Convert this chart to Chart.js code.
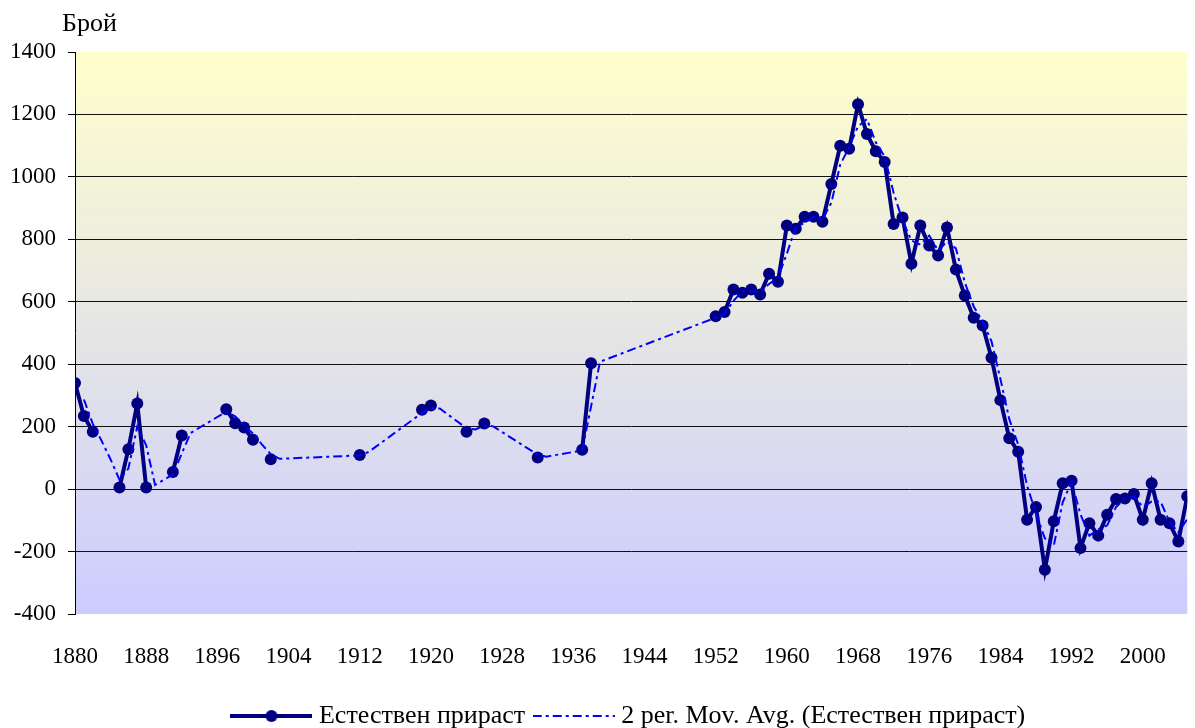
<!DOCTYPE html>
<html>
<head>
<meta charset="utf-8">
<script src="https://cdn.jsdelivr.net/npm/chart.js@4/dist/chart.umd.min.js"></script>
<style>
  html, body { margin: 0; padding: 0; background: #fff; }
</style>
</head>
<body>
<canvas id="growthChart" width="1195" height="728"></canvas>
<script>
// Natural growth (number of people), years with data only
const years = [1880, 1881, 1882, 1885, 1886, 1887, 1888, 1891, 1892, 1897, 1898, 1899, 1900, 1902,
  1912, 1919, 1920, 1924, 1926, 1932, 1937, 1938,
  1952, 1953, 1954, 1955, 1956, 1957, 1958, 1959, 1960, 1961, 1962, 1963, 1964, 1965, 1966, 1967,
  1968, 1969, 1970, 1971, 1972, 1973, 1974, 1975, 1976, 1977, 1978, 1979, 1980, 1981, 1982, 1983,
  1984, 1985, 1986, 1987, 1988, 1989, 1990, 1991, 1992, 1993, 1994, 1995, 1996, 1997, 1998, 1999,
  2000, 2001, 2002, 2003, 2004, 2005];
const growth = [340, 234, 184, 5, 128, 274, 5, 55, 172, 256, 211, 197, 158, 96,
  109, 254, 268, 184, 210, 101, 126, 403,
  554, 567, 639, 629, 639, 623, 690, 664, 844, 834, 872, 872, 856, 977, 1100, 1090,
  1233, 1137, 1082, 1048, 849, 870, 722, 844, 780, 748, 838, 703, 620, 549, 524, 421,
  285, 163, 120, -98, -57, -258, -103, 19, 27, -189, -109, -149, -82, -32, -30, -16,
  -98, 19, -98, -109, -168, -23];

// 2 period moving average as drawn (dash-dot line)
const maYears = [1881, 1882, 1883, 1884, 1885, 1886, 1887, 1888, 1889, 1890, 1891, 1892, 1893,
  1897, 1898, 1899, 1900, 1901, 1902, 1903, 1912, 1913, 1919, 1920, 1921, 1924, 1925, 1926, 1927,
  1932, 1933, 1937, 1938, 1939,
  1952, 1953, 1954, 1955, 1956, 1957, 1958, 1959, 1960, 1961, 1962, 1963, 1964, 1965, 1966, 1967,
  1968, 1969, 1970, 1971, 1972, 1973, 1974, 1975, 1976, 1977, 1978, 1979, 1980, 1981, 1982, 1983,
  1984, 1985, 1986, 1987, 1988, 1989, 1990, 1991, 1992, 1993, 1994, 1995, 1996, 1997, 1998, 1999,
  2000, 2001, 2002, 2003, 2004, 2005];
const maValues = [287, 209, 154, 95, 30, 66, 201, 140, 13, 30, 47, 114, 180,
  248, 233, 204, 178, 143, 112, 97, 108, 119, 244, 261, 258, 195, 191, 204, 201,
  110, 104, 124, 265, 408,
  549, 561, 603, 634, 634, 631, 657, 677, 754, 839, 853, 872, 864, 917, 1039, 1095,
  1162, 1185, 1110, 1065, 949, 860, 796, 783, 812, 764, 793, 771, 662, 585, 537, 473,
  353, 224, 142, 11, -78, -158, -181, -42, 23, -81, -149, -129, -116, -57, -31, -23,
  -57, -40, -40, -104, -139, -96];

const xTicks = [1880, 1888, 1896, 1904, 1912, 1920, 1928, 1936, 1944, 1952, 1960, 1968, 1976, 1984, 1992, 2000];
const labels = ["Естествен прираст", "2 per. Mov. Avg. (Естествен прираст)"];

const FONT = "'Liberation Serif', 'Times New Roman', serif";

// break the line where years are missing
function toPoints(xs, ys) {
  const pts = [];
  xs.forEach((x, i) => {
    if (i > 0 && x - xs[i - 1] > 1) pts.push({ x: x - 0.5, y: null });
    pts.push({ x: x, y: ys[i] });
  });
  return pts;
}

// legend icons
function makeIcon(dashed) {
  const c = document.createElement("canvas");
  c.width = 82; c.height = 16;
  const g = c.getContext("2d");
  g.beginPath();
  g.moveTo(0, 8); g.lineTo(82, 8);
  if (dashed) {
    g.strokeStyle = "#0000ff"; g.lineWidth = 2; g.setLineDash([9, 4, 3, 4]);
    g.stroke();
  } else {
    g.strokeStyle = "#000080"; g.lineWidth = 4;
    g.stroke();
    g.beginPath(); g.arc(41, 8, 6, 0, Math.PI * 2);
    g.fillStyle = "#000080"; g.fill();
  }
  return c;
}
const icons = [makeIcon(false), makeIcon(true)];

const plotBackground = {
  id: "plotBackground",
  beforeDraw(chart) {
    const { ctx, chartArea: a } = chart;
    const grad = ctx.createLinearGradient(0, a.top, 0, a.bottom);
    grad.addColorStop(0, "rgb(255,255,204)");
    grad.addColorStop(1, "rgb(204,204,255)");
    ctx.save();
    ctx.fillStyle = grad;
    ctx.fillRect(a.left, a.top, a.right - a.left, a.bottom - a.top);
    ctx.restore();
  },
  afterDraw(chart) {
    const ctx = chart.ctx;
    ctx.save();
    ctx.font = "26px " + FONT;
    ctx.fillStyle = "#000";
    ctx.textBaseline = "middle";
    ctx.fillText("Брой", 62, 24);
    ctx.restore();
  }
};

const chart = new Chart(document.getElementById("growthChart"), {
  type: "line",
  data: {
    datasets: [{
      label: labels[0],
      data: toPoints(years, growth),
      borderColor: "#000080",
      backgroundColor: "#000080",
      borderWidth: 4,
      pointRadius: 6,
      pointBorderWidth: 0,
      pointBackgroundColor: "#000080",
      spanGaps: false,
      order: 1
    }, {
      label: labels[1],
      data: maYears.map((x, i) => ({ x: x, y: maValues[i] })),
      borderColor: "#0000ff",
      borderWidth: 2,
      borderDash: [9, 4, 3, 4],
      pointRadius: 0,
      order: 0
    }]
  },
  options: {
    responsive: false,
    animation: false,
    events: [],
    layout: { padding: { top: 52, bottom: -11, left: 0, right: 0 } },
    scales: {
      x: {
        type: "linear",
        min: 1880,
        max: 2005,
        afterBuildTicks: s => { s.ticks = xTicks.map(v => ({ value: v })); },
        afterFit: s => { s.height = 75; },
        grid: { display: false, drawTicks: false },
        border: { display: false },
        ticks: {
          color: "#000", font: { family: FONT, size: 23 }, padding: 29, maxRotation: 0, autoSkip: false,
          callback: v => String(v)
        }
      },
      y: {
        min: -400,
        max: 1400,
        afterFit: s => { s.width = 75; },
        ticks: {
          stepSize: 200, color: "#000", font: { family: FONT, size: 23 }, padding: 12,
          callback: v => String(v)
        },
        grid: {
          color: c => (c.tick && (c.tick.value === 1400 || c.tick.value === -400)) ? "rgba(0,0,0,0)" : "#111",
          tickColor: "#000",
          tickLength: 7,
          lineWidth: 1
        },
        border: { display: true, color: "#000", width: 1 }
      }
    },
    plugins: {
      tooltip: { enabled: false },
      legend: {
        position: "bottom",
        fullSize: false,
        labels: {
          usePointStyle: true,
          pointStyleWidth: 69,
          padding: 14,
          color: "#000",
          font: { family: FONT, size: 26 },
          generateLabels: ch => ch.data.datasets.map((ds, i) => ({
            text: ds.label,
            pointStyle: icons[i],
            datasetIndex: i,
            fontColor: "#000",
            hidden: false,
            lineWidth: 0,
            strokeStyle: "rgba(0,0,0,0)",
            fillStyle: "rgba(0,0,0,0)"
          }))
        }
      }
    }
  },
  plugins: [plotBackground]
});
</script>
</body>
</html>
